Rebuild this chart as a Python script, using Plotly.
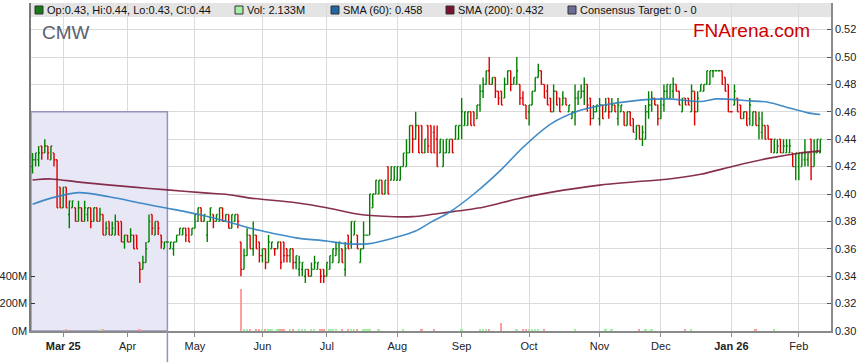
import pandas as pd
import plotly.graph_objects as go

# ---------------- data ----------------
opens = [
    .420, .425, .425, .435, .430, .435, .425, .430, .425, .405,
    .390, .405, .385, .390, .390, .380, .390, .380, .385, .390,
    .380, .390, .380, .385, .370, .380, .370, .370, .380, .380,
    .365, .370, .365, .370, .370, .350, .345, .350, .365, .385,
    .370, .380, .370, .360, .365, .360, .360, .365, .370, .370,
    .375, .375, .370, .375, .380, .390, .380, .370, .380, .385,
    .380, .380, .390, .380, .385, .375, .380, .385, .365, .345,
    .355, .370, .360, .370, .365, .355, .360, .350, .360, .360,
    .360, .365, .365, .360, .355, .360, .350, .345, .345, .340,
    .345, .340, .345, .345, .345, .345, .340, .345, .350, .355,
    .350, .360, .345, .370, .365, .370, .370, .350, .360, .370,
    .370, .390, .400, .400, .410, .400, .420, .410, .410, .410,
    .410, .420, .420, .430, .450, .440, .450, .450, .430, .450,
    .450, .445, .440, .430, .420, .430, .430, .440, .440, .440,
    .450, .450, .450, .460, .460, .455, .465, .475, .480, .490,
    .480, .485, .475, .475, .470, .480, .490, .480, .480, .480,
    .470, .465, .460, .465, .475, .485, .490, .480, .475, .470,
    .460, .475, .470, .465, .470, .460, .455, .460, .470, .470,
    .475, .480, .470, .455, .460, .455, .465, .460, .470, .460,
    .465, .455, .460, .460, .450, .460, .455, .440, .450, .440,
    .440, .460, .465, .470, .465, .455, .465, .475, .470, .475,
    .480, .475, .460, .470, .470, .460, .475, .460, .475, .475,
    .480, .480, .490, .490, .490, .490, .485, .480, .460, .465,
    .470, .465, .455, .460, .455, .450, .460, .450, .445, .450,
    .450, .440, .430, .430, .440, .430, .430, .430, .430, .420,
    .420, .420, .425, .425, .440, .420, .430, .430,
]
highs = [
    .430, .430, .435, .435, .440, .435, .435, .430, .425, .405,
    .405, .405, .395, .395, .390, .395, .390, .395, .390, .390,
    .390, .390, .390, .385, .380, .380, .380, .385, .380, .380,
    .370, .370, .375, .370, .370, .350, .355, .365, .385, .385,
    .380, .380, .370, .365, .365, .365, .365, .370, .375, .375,
    .375, .375, .375, .385, .390, .390, .385, .380, .390, .385,
    .385, .390, .390, .385, .385, .385, .385, .385, .365, .360,
    .375, .370, .380, .370, .365, .360, .360, .370, .365, .360,
    .365, .365, .365, .360, .360, .360, .355, .355, .350, .345,
    .345, .350, .355, .350, .345, .345, .350, .355, .360, .365,
    .365, .360, .365, .370, .380, .380, .370, .360, .380, .370,
    .400, .400, .410, .410, .410, .410, .420, .420, .420, .420,
    .420, .430, .440, .450, .450, .460, .450, .450, .440, .450,
    .450, .450, .450, .440, .440, .440, .440, .440, .450, .450,
    .470, .460, .460, .460, .460, .465, .480, .485, .490, .500,
    .485, .485, .475, .475, .485, .490, .490, .485, .500, .480,
    .475, .465, .465, .475, .485, .495, .490, .480, .480, .470,
    .480, .475, .470, .475, .470, .465, .460, .480, .475, .480,
    .485, .480, .470, .465, .465, .470, .465, .470, .470, .470,
    .465, .470, .465, .460, .460, .460, .455, .450, .450, .450,
    .465, .475, .475, .470, .465, .470, .480, .480, .480, .485,
    .480, .475, .470, .470, .470, .480, .475, .475, .480, .480,
    .490, .490, .490, .490, .490, .490, .485, .480, .460, .480,
    .470, .465, .460, .460, .470, .460, .460, .460, .460, .450,
    .450, .440, .440, .440, .440, .440, .440, .440, .430, .430,
    .430, .430, .440, .430, .440, .440, .440, .440,
]
lows = [
    .415, .420, .420, .425, .430, .425, .425, .420, .390, .390,
    .390, .390, .375, .390, .380, .380, .380, .380, .380, .375,
    .380, .380, .380, .370, .370, .370, .370, .370, .370, .365,
    .360, .365, .365, .360, .360, .335, .345, .350, .365, .370,
    .370, .370, .360, .360, .365, .360, .355, .365, .370, .370,
    .365, .365, .370, .375, .380, .380, .380, .365, .380, .375,
    .380, .380, .380, .380, .375, .375, .380, .375, .340, .345,
    .355, .360, .355, .360, .350, .350, .345, .350, .360, .355,
    .360, .345, .350, .350, .350, .345, .345, .340, .340, .335,
    .340, .340, .345, .345, .335, .335, .340, .345, .350, .355,
    .350, .350, .340, .360, .360, .370, .360, .350, .360, .370,
    .370, .390, .400, .400, .400, .400, .400, .410, .410, .410,
    .410, .420, .420, .430, .430, .440, .430, .430, .430, .430,
    .430, .430, .420, .430, .420, .430, .430, .430, .440, .440,
    .440, .450, .450, .450, .450, .455, .460, .470, .480, .480,
    .480, .470, .465, .465, .470, .480, .475, .480, .480, .465,
    .465, .455, .450, .465, .475, .485, .480, .470, .465, .460,
    .460, .465, .460, .465, .465, .460, .455, .450, .465, .470,
    .465, .460, .450, .455, .460, .450, .455, .460, .455, .460,
    .460, .450, .460, .450, .450, .450, .445, .440, .440, .435,
    .440, .455, .460, .465, .450, .455, .460, .470, .470, .470,
    .475, .465, .460, .465, .465, .460, .450, .460, .475, .475,
    .480, .480, .485, .490, .490, .480, .475, .460, .460, .465,
    .460, .455, .455, .450, .450, .450, .450, .440, .440, .440,
    .440, .430, .430, .430, .430, .430, .430, .430, .420, .410,
    .410, .420, .420, .420, .410, .420, .430, .430,
]
closes = [
    .425, .430, .430, .430, .435, .430, .435, .425, .390, .390,
    .405, .390, .395, .395, .380, .390, .380, .390, .390, .380,
    .390, .380, .385, .370, .375, .370, .375, .380, .370, .365,
    .370, .365, .370, .360, .360, .345, .350, .360, .380, .375,
    .380, .375, .365, .365, .365, .365, .365, .370, .375, .375,
    .370, .365, .375, .385, .390, .380, .385, .380, .390, .380,
    .385, .390, .380, .385, .375, .385, .385, .380, .345, .355,
    .370, .360, .370, .360, .355, .360, .350, .365, .365, .360,
    .365, .350, .355, .355, .360, .350, .355, .350, .350, .345,
    .340, .345, .350, .350, .340, .340, .350, .355, .360, .360,
    .365, .350, .360, .360, .380, .380, .360, .360, .370, .370,
    .400, .400, .410, .410, .400, .410, .400, .420, .420, .420,
    .420, .430, .430, .450, .440, .450, .430, .430, .440, .435,
    .430, .430, .420, .440, .430, .440, .440, .430, .450, .450,
    .460, .460, .460, .450, .450, .465, .475, .480, .490, .480,
    .485, .475, .470, .465, .480, .490, .480, .485, .490, .470,
    .465, .455, .465, .475, .485, .490, .480, .470, .465, .460,
    .475, .465, .460, .470, .465, .465, .460, .470, .475, .475,
    .480, .465, .455, .460, .465, .465, .455, .465, .460, .465,
    .460, .465, .465, .450, .460, .450, .445, .450, .440, .445,
    .460, .465, .470, .465, .455, .470, .475, .480, .480, .480,
    .475, .465, .470, .465, .465, .475, .460, .470, .480, .480,
    .490, .490, .490, .490, .490, .480, .475, .460, .460, .475,
    .460, .455, .460, .450, .465, .460, .450, .455, .450, .440,
    .440, .440, .440, .435, .430, .435, .435, .435, .420, .430,
    .430, .430, .430, .430, .420, .430, .440, .440,
]
# volume in millions of shares
volume_m = [
    0, 0, 0, 0, 0, 0, 0, 0, 0, 0, 0, 8, 0, 0, 0, 0, 0, 0, 0, 0,
    0, 0, 10, 8, 0, 0, 0, 0, 0, 0, 0, 0, 0, 0, 0, 12, 0, 0, 0, 0,
    0, 0, 0, 0, 0, 0, 0, 0, 0, 0, 0, 0, 0, 0, 0, 0, 0, 0, 0, 0,
    0, 0, 0, 0, 0, 0, 0, 0, 310, 10, 9, 10, 0, 9, 8, 10, 8, 12, 9, 0,
    8, 9, 10, 0, 8, 11, 0, 10, 9, 8, 0, 12, 9, 0, 10, 9, 0, 10, 12, 8,
    0, 9, 0, 10, 8, 14, 9, 0, 10, 8, 9, 0, 0, 8, 0, 0, 0, 0, 0, 0,
    0, 8, 0, 0, 0, 0, 0, 8, 0, 0, 0, 9, 0, 0, 0, 0, 0, 0, 0, 0,
    8, 0, 0, 0, 0, 0, 9, 8, 10, 9, 0, 0, 0, 55, 0, 0, 0, 0, 8, 0,
    9, 10, 8, 14, 9, 10, 0, 9, 0, 0, 0, 0, 0, 0, 0, 0, 0, 8, 0, 0,
    0, 0, 0, 0, 0, 0, 0, 8, 0, 8, 0, 0, 0, 0, 0, 0, 0, 0, 9, 0,
    9, 0, 10, 0, 0, 0, 0, 0, 0, 0, 0, 0, 0, 9, 0, 8, 0, 0, 0, 0,
    0, 0, 0, 0, 0, 0, 0, 0, 0, 0, 0, 0, 0, 0, 0, 0, 8, 0, 0, 0,
    0, 0, 8, 0, 0, 0, 0, 0, 0, 0, 0, 0, 0, 0, 0, 0, 0, 0,
]
# moving averages read at sample bars (bar index -> value)
sma60_idx = [0, 6, 15, 25, 36, 44, 55, 64, 71, 75, 86, 96, 102, 110, 118, 125, 130,
             136, 144, 153, 160, 169, 178, 185, 196, 207, 218, 223, 234, 240, 246, 253, 257]
sma60_val = [.3925, .397, .401, .398, .393, .3896, .3847, .3796, .375, .373, .368, .3657,
             .3638, .3638, .368, .373, .3795, .3867, .400, .418, .434, .451, .4605, .4644,
             .468, .4694, .4675, .4694, .468, .467, .4633, .4592, .458]
sma200_idx = [0, 6, 16, 33, 44, 55, 64, 71, 86, 96, 107, 118, 124, 130, 134, 147, 158,
              169, 185, 196, 207, 218, 229, 240, 250, 257]
sma200_val = [.4102, .411, .4085, .405, .403, .401, .3995, .397, .3936, .390, .385, .3834,
              .3835, .385, .3862, .3903, .3964, .4012, .4065, .4088, .4108, .4144, .4205,
              .426, .4298, .4315]

month_ticks = ["2025-03-03", "2025-04-01", "2025-05-01", "2025-06-02", "2025-07-01",
               "2025-08-01", "2025-09-01", "2025-10-01", "2025-11-03", "2025-12-01",
               "2026-01-01", "2026-02-02"]
month_labels = ["<b>Mar 25</b>", "Apr", "May", "Jun", "Jul", "Aug", "Sep", "Oct", "Nov",
                "Dec", "<b>Jan 26</b>", "Feb"]
price_ticks = [0.30, 0.32, 0.34, 0.36, 0.38, 0.40, 0.42, 0.44, 0.46, 0.48, 0.50, 0.52]
vol_ticks = [0, 200e6, 400e6]
vol_labels = ["0M", "200M", "400M"]

legend_items = [
    ("Op:0.43, Hi:0.44, Lo:0.43, Cl:0.44", "#167a16"),
    ("Vol: 2.133M", "#a6f0a6"),
    ("SMA (60): 0.458", "#1f66a6"),
    ("SMA (200): 0.432", "#7a1232"),
    ("Consensus Target: 0 - 0", "#6c6c98"),
]
legend_x_px = [35, 235, 331, 446, 568]
target_end = "2025-04-18"
target_level = 0.46

# ---------------- figure ----------------
dates = pd.bdate_range("2025-02-17", periods=len(closes))
FONT = "Liberation Sans, Arial, sans-serif"
GREEN, RED = "#008000", "#dd0000"

vol_colors = ["#a4f0a4" if c >= o else "#ff9e9e" for o, c in zip(opens, closes)]

fig = go.Figure()
fig.add_trace(go.Bar(x=dates, y=[v * 1e6 for v in volume_m], marker_color=vol_colors,
                     marker_line_width=0, width=0.62 * 86400000, yaxis="y2",
                     hoverinfo="skip"))
fig.add_trace(go.Scatter(x=[dates[i] for i in sma200_idx], y=sma200_val, mode="lines",
                         line=dict(color="#7b1a3a", width=1.6, shape="spline", smoothing=0.8),
                         opacity=0.9, hoverinfo="skip"))
fig.add_trace(go.Scatter(x=[dates[i] for i in sma60_idx], y=sma60_val, mode="lines",
                         line=dict(color="#2f80c2", width=1.6, shape="spline", smoothing=0.8),
                         opacity=0.9, hoverinfo="skip"))
fig.add_trace(go.Ohlc(x=dates, open=opens, high=highs, low=lows, close=closes,
                      increasing_line_color=GREEN, decreasing_line_color=RED,
                      line_width=1.4, tickwidth=0.42, hoverinfo="skip"))

W, H = 859, 363
L, R, T, B = 31, 28, 3, 32
pw, ph = W - L - R, H - T - B


def px_x(x):
    return (x - L) / pw


def px_y(y):
    return (H - B - y) / ph


shapes = [
    # consensus target box
    dict(type="rect", xref="x", yref="y", x0="2025-02-14 12:00", x1=target_end,
         y0=0.30, y1=target_level, fillcolor="#e7e7f6",
         line=dict(color="#9494bb", width=1.5), layer="between"),
    dict(type="line", xref="x", yref="paper", x0=target_end, x1=target_end,
         y0=-0.095, y1=0, line=dict(color="#9494bb", width=1.5)),
    # legend strip
    dict(type="rect", xref="paper", yref="paper", x0=0, x1=1, y0=px_y(17), y1=1,
         fillcolor="rgba(222,222,222,0.82)", line=dict(width=0), layer="between"),
]
annotations = []
for (txt, col), xp in zip(legend_items, legend_x_px):
    shapes.append(dict(type="rect", xref="paper", yref="paper", x0=px_x(xp), x1=px_x(xp + 8),
                       y0=px_y(14), y1=px_y(6), fillcolor=col,
                       line=dict(color="#333333", width=1)))
    annotations.append(dict(xref="paper", yref="paper", x=px_x(xp + 10), y=px_y(10.5),
                            xanchor="left", yanchor="middle", showarrow=False, text=txt,
                            font=dict(family=FONT, size=11, color="#111111")))
annotations.append(dict(xref="paper", yref="paper", x=px_x(40), y=px_y(32.5),
                        xanchor="left", yanchor="middle", showarrow=False, text="CMW",
                        font=dict(family=FONT, size=19, color="#5b6170")))
annotations.append(dict(xref="paper", yref="paper", x=px_x(691), y=px_y(30.5),
                        xanchor="left", yanchor="middle", showarrow=False, text="FNArena.com",
                        font=dict(family=FONT, size=19, color="#cc0000")))

price_top = 0.30 + ph * 0.02 / 27.4
vol_top = ph * 200e6 / 27.4

fig.update_layout(
    width=W, height=H, margin=dict(l=L, r=R, t=T, b=B, autoexpand=False),
    paper_bgcolor="white", plot_bgcolor="white", showlegend=False,
    font=dict(family=FONT, size=11, color="#222222"),
    shapes=shapes, annotations=annotations, bargap=0,
    xaxis=dict(type="date", range=["2025-02-14 12:00", "2026-02-16 12:00"],
               rangebreaks=[dict(bounds=["sat", "mon"])],
               rangeslider=dict(visible=False), automargin=False,
               tickvals=month_ticks, ticktext=month_labels,
               showgrid=True, gridcolor="#dadada", gridwidth=1,
               showline=True, linecolor="#8a8a8a", linewidth=1.5,
               ticks="outside", ticklen=4, tickcolor="#8a8a8a",
               tickfont=dict(family=FONT, size=11, color="#222222"), zeroline=False),
    yaxis=dict(side="right", range=[0.30, price_top], tickvals=price_ticks,
               tickformat=".2f", showgrid=True, gridcolor="#dadada", gridwidth=1,
               showline=True, linecolor="#8a8a8a", linewidth=1.5, automargin=False,
               ticks="inside", ticklen=4, tickcolor="#555555",
               tickfont=dict(family=FONT, size=11, color="#222222"), zeroline=False),
    yaxis2=dict(overlaying="y", side="left", range=[0, vol_top], tickvals=vol_ticks,
                ticktext=vol_labels, showgrid=False, showline=True, automargin=False,
                linecolor="#7a7a7a", linewidth=1.5, ticks="inside", ticklen=4,
                tickcolor="#333333", zeroline=False,
                tickfont=dict(family=FONT, size=11, color="#222222")),
)

fig.write_html("out.html", config={"displayModeBar": False},
               post_script="document.body.style.margin='0';document.body.style.padding='0';")
